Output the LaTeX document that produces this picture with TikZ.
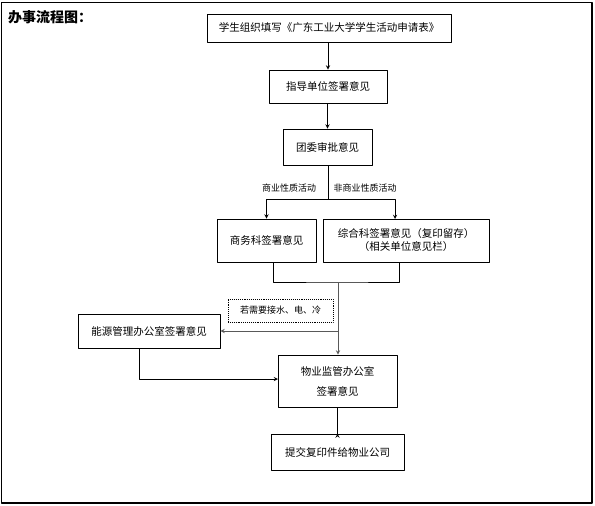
\documentclass[tikz,border=0pt]{standalone}
\usepackage{fontspec}
\newfontfamily\cjk{Noto Sans CJK SC}
\usetikzlibrary{arrows}
\begin{document}
\begin{tikzpicture}[>=stealth,x=1pt,y=-1pt,line join=round,font=\cjk\fontsize{10.5}{13}\selectfont,
	hop/.style={draw,line width=0.9pt,align=center,inner sep=0pt},
	nhan/.style={font=\cjk\fontsize{9}{11}\selectfont,inner sep=0pt},
	noi/.style={line width=0.9pt}]
	\useasboundingbox (0,0) rectangle (595,506);
	%Khung ngoài
	\draw[line width=1.1pt] (1.5,2.5) rectangle (592,503);
	\node[font=\cjk\fontsize{14}{16}\selectfont\bfseries,anchor=west,inner sep=0pt] (tieude) at (8,17) {办事流程图：};
	%Các hộp
	\node[hop,minimum width=244,minimum height=28] (A) at (329,28) {学生组织填写《广东工业大学学生活动申请表》};
	\node[hop,minimum width=118,minimum height=33] (B) at (328,86.5) {指导单位签署意见};
	\node[hop,minimum width=89,minimum height=36] (C) at (327.5,147) {团委审批意见};
	\node[hop,minimum width=99,minimum height=43] (D) at (266.5,240.5) {商务科签署意见};
	\node[hop,minimum width=166,minimum height=43] (E) at (406,240.5) {综合科签署意见（复印留存）\\（相关单位意见栏）};
	\node[draw,densely dotted,line width=0.9pt,minimum width=105,minimum height=23,nhan] (F) at (280.5,310.5) {若需要接水、电、冷};
	\node[hop,minimum width=142,minimum height=34] (G) at (149,331) {能源管理办公室签署意见};
	\node[hop,minimum width=119,minimum height=52,font=\cjk\fontsize{10.5}{20}\selectfont] (H) at (337.5,381) {物业监管办公室\\签署意见};
	\node[hop,minimum width=133,minimum height=36] (K) at (337.5,452) {提交复印件给物业公司};
	\node[nhan] (l1) at (289,188) {商业性质活动};
	\node[nhan] (l2) at (365,188) {非商业性质活动};
	%Điểm nối
	\path 
	(328,199) coordinate (r)
	(395,219) coordinate (E1)
	(273,262) coordinate (D2)
	(399,262) coordinate (E2)
	(338,282) coordinate (m)
	(338,331) coordinate (g)
	(139,348) coordinate (G2)
	(278,379) coordinate (H1)
	;
	%Mũi tên
	\draw[noi,->] (B.north|-A.south)--(B.north);
	\draw[noi,->] (C.north|-B.south)--(C.north);
	\draw[noi] (r|-C.south)--(r);
	\draw[noi,->] (r)-|(D.north);
	\draw[noi,->] (r)-|(E1);
	\draw[noi] (D2)|-(m)-|(E2);
	\draw[noi,black!65,->] (m)--(H.north-|m);
	\draw[noi,black!65,->] (g)--(G.east|-g);
	\draw[noi,->] (G2)|-(H1);
	\draw[noi,->] (K.north-|H.south)--(K.north);
	\draw[noi] (H.south)--(K.north-|H.south);
\end{tikzpicture}
\end{document}
